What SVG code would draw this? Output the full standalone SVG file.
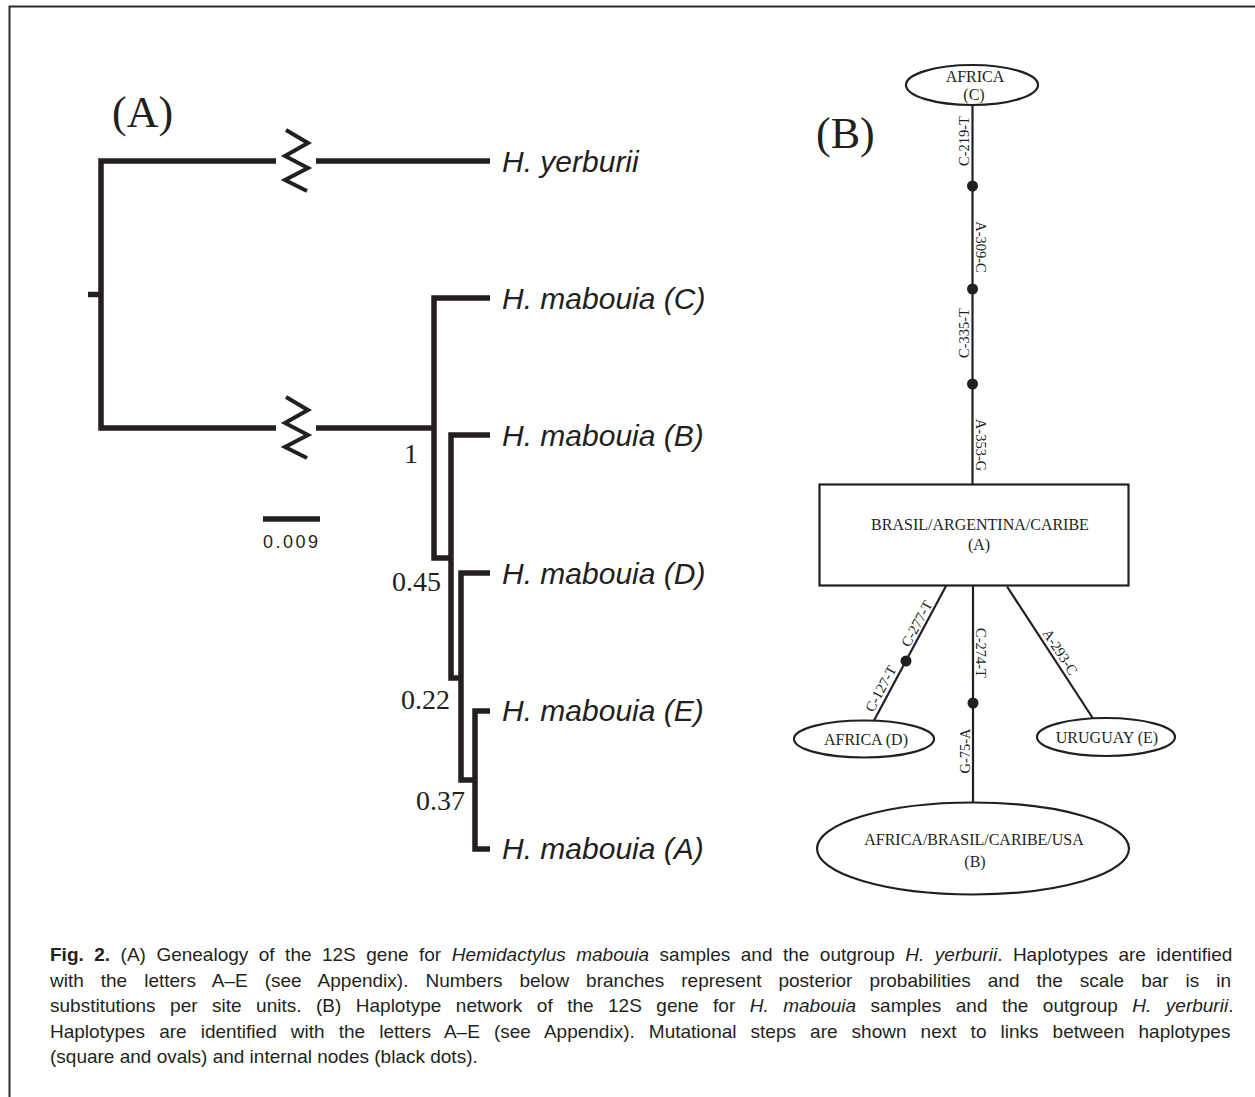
<svg xmlns="http://www.w3.org/2000/svg" width="1255" height="1097" viewBox="0 0 1255 1097">
<style>
.tree{fill:none;stroke:#231f20;stroke-width:5.5;stroke-linejoin:miter;stroke-linecap:butt}
.zig{fill:none;stroke:#231f20;stroke-width:4;stroke-linejoin:miter}
.tip{font-family:"Liberation Sans",Arial,sans-serif;font-style:italic;font-size:30px;fill:#231f20}
.pp{font-family:"Liberation Serif","Times New Roman",serif;font-size:28px;fill:#231f20;text-anchor:end}
.big{font-family:"Liberation Serif","Times New Roman",serif;font-size:44px;fill:#231f20}
.net{fill:none;stroke:#231f20;stroke-width:2.2}
.node{fill:#fff;stroke:#231f20;stroke-width:2.2}
.dot{fill:#231f20}
.nl{font-family:"Liberation Serif","Times New Roman",serif;font-size:16px;fill:#231f20;text-anchor:middle}
.mut{font-family:"Liberation Serif","Times New Roman",serif;font-size:14.5px;fill:#231f20;text-anchor:middle}
.cap{font-family:"Liberation Sans",Arial,sans-serif;font-size:19px;fill:#231f20}
</style>
<rect x="0" y="0" width="1255" height="1097" fill="#fff"/>
<path d="M9.5,1097 V6.5 H1255" fill="none" stroke="#2a2a2a" stroke-width="2"/>

<!-- Panel A: tree -->
<text class="big" x="112" y="127">(A)</text>
<g id="tree-branches">
<path class="tree" d="M88,294.5 H101"/>
<path class="tree" d="M276,161 H101 V428 H276"/>
<path class="tree" d="M316,161 H490"/>
<path class="tree" d="M316,428 H434"/>
<path class="tree" d="M490,298 H434 V558 H451"/>
<path class="tree" d="M490,435 H451 V678 H461"/>
<path class="tree" d="M490,573 H461 V780 H475"/>
<path class="tree" d="M490,711 H475 V849 H490"/>
<polyline class="zig" points="286,130 308,143 285,156 308,168 285,180 307,191"/>
<polyline class="zig" points="286,397 308,410 285,423 308,435 285,447 307,458"/>
</g>
<g id="tip-yerburii"><text class="tip" x="502" y="172">H. yerburii</text></g>
<g id="tip-C"><text class="tip" x="502" y="309">H. mabouia (C)</text></g>
<g id="tip-B"><text class="tip" x="502" y="446">H. mabouia (B)</text></g>
<g id="tip-D"><text class="tip" x="502" y="584">H. mabouia (D)</text></g>
<g id="tip-E"><text class="tip" x="502" y="721">H. mabouia (E)</text></g>
<g id="tip-A"><text class="tip" x="502" y="859">H. mabouia (A)</text></g>
<g id="support">
<text class="pp" x="418" y="463">1</text>
<text class="pp" x="441" y="591">0.45</text>
<text class="pp" x="450" y="709">0.22</text>
<text class="pp" x="465" y="810">0.37</text>
</g>
<g id="scale-bar">
<path class="tree" d="M263,519 H320"/>
<text x="263" y="548" font-family="'Liberation Sans',Arial,sans-serif" font-size="18" letter-spacing="2.5" fill="#231f20">0.009</text>
</g>

<!-- Panel B: network -->
<text class="big" x="816" y="148">(B)</text>
<g id="connectors">
<path class="net" d="M972.5,105 V484.5"/>
<path class="net" d="M946,586 L874,720.5"/>
<path class="net" d="M973,586 V803"/>
<path class="net" d="M1007,586.5 L1093,718.5"/>
<circle class="dot" cx="972.5" cy="186" r="5.5"/>
<circle class="dot" cx="972.5" cy="289" r="5.5"/>
<circle class="dot" cx="972.5" cy="384" r="5.5"/>
<circle class="dot" cx="906" cy="661" r="5.5"/>
<circle class="dot" cx="973" cy="703" r="5.5"/>
<text class="mut" transform="translate(969,141) rotate(-90)">C-219-T</text>
<text class="mut" transform="translate(976,247) rotate(90)">A-309-C</text>
<text class="mut" transform="translate(969,333) rotate(-90)">C-335-T</text>
<text class="mut" transform="translate(976,445) rotate(90)">A-353-G</text>
<text class="mut" transform="translate(921,626) rotate(-61.7)">C-277-T</text>
<text class="mut" transform="translate(885,691) rotate(-61.7)">C-127-T</text>
<text class="mut" transform="translate(976,653) rotate(90)">C-274-T</text>
<text class="mut" transform="translate(969.5,751) rotate(-90)">G-75-A</text>
<text class="mut" transform="translate(1056,654.5) rotate(56.9)">A-293-C</text>
</g>
<g id="hap-C">
<ellipse class="node" cx="972" cy="85" rx="66" ry="20"/>
<text class="nl" x="975" y="82" font-size="14.5">AFRICA</text>
<text class="nl" x="974" y="100" font-size="14.5">(C)</text>
</g>
<g id="hap-A">
<rect class="node" x="819.5" y="484.5" width="309" height="101" stroke-width="2"/>
<text class="nl" x="980" y="530">BRASIL/ARGENTINA/CARIBE</text>
<text class="nl" x="979" y="550">(A)</text>
</g>
<g id="hap-D">
<ellipse class="node" cx="864" cy="739" rx="70" ry="18.5"/>
<text class="nl" x="866" y="745">AFRICA (D)</text>
</g>
<g id="hap-E">
<ellipse class="node" cx="1106" cy="737" rx="69" ry="19"/>
<text class="nl" x="1107" y="743">URUGUAY (E)</text>
</g>
<g id="hap-B">
<ellipse class="node" cx="973" cy="848.5" rx="156" ry="46"/>
<text class="nl" x="974" y="845">AFRICA/BRASIL/CARIBE/USA</text>
<text class="nl" x="975" y="867">(B)</text>
</g>

<!-- Caption -->
<g id="caption">
<text class="cap" x="50" y="961" word-spacing="5.2"><tspan font-weight="bold">Fig. 2.</tspan> (A) Genealogy of the 12S gene for <tspan font-style="italic">Hemidactylus mabouia</tspan> samples and the outgroup <tspan font-style="italic">H. yerburii</tspan>. Haplotypes are identified</text>
<text class="cap" x="50" y="986.5" word-spacing="11.7">with the letters A–E (see Appendix). Numbers below branches represent posterior probabilities and the scale bar is in</text>
<text class="cap" x="50" y="1012" word-spacing="9.2">substitutions per site units. (B) Haplotype network of the 12S gene for <tspan font-style="italic">H. mabouia</tspan> samples and the outgroup <tspan font-style="italic">H. yerburii</tspan>.</text>
<text class="cap" x="50" y="1037.5" word-spacing="8.8">Haplotypes are identified with the letters A–E (see Appendix). Mutational steps are shown next to links between haplotypes</text>
<text class="cap" x="50" y="1063">(square and ovals) and internal nodes (black dots).</text>
</g>
</svg>
